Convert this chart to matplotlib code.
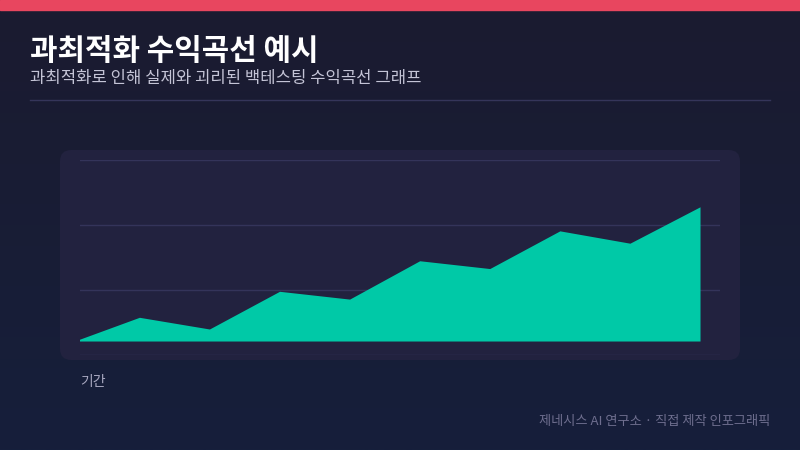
import matplotlib
matplotlib.use("Agg")
import matplotlib.pyplot as plt
import numpy as np
from matplotlib.patches import FancyBboxPatch, Rectangle
from matplotlib.lines import Line2D

plt.rcParams['font.family'] = ['Noto Sans CJK KR', 'DejaVu Sans']

# ---- data ----
periods = list(range(10))
equity = [18.5, 58, 40, 98, 86, 145, 133, 191, 172, 228]
baseline = 21.5
grid_levels = [0, 100, 200, 300]

title = "과최적화 수익곡선 예시"
subtitle = "과최적화로 인해 실제와 괴리된 백테스팅 수익곡선 그래프"
xlabel = "기간"
footer = "제네시스 AI 연구소 · 직접 제작 인포그래픽"

W, H = 800, 450
fig = plt.figure(figsize=(8, 4.5), dpi=100)

# background gradient
bg = fig.add_axes([0, 0, 1, 1], zorder=0)
top = np.array([0x1b, 0x1b, 0x30]) / 255
bot = np.array([0x16, 0x1f, 0x3b]) / 255
t = np.linspace(0, 1, 256)[:, None]
grad = top[None, :] * (1 - t) + bot[None, :] * t
bg.imshow(grad[:, None, :], aspect='auto', extent=[0, 1, 0, 1])
bg.set_xlim(0, 1); bg.set_ylim(0, 1)
bg.axis('off')

# top bar
bg.add_patch(Rectangle((0, 1 - 10 / H), 1, 10 / H, color='#e8465f', transform=bg.transAxes, zorder=2))

# card
card = FancyBboxPatch((60 / W, 1 - 360 / H), 680 / W, 210 / H,
                      boxstyle="round,pad=0,rounding_size=0.014",
                      mutation_aspect=W / H,
                      facecolor='#22223f', edgecolor='none', transform=bg.transAxes, zorder=1)
bg.add_patch(card)

# separator
bg.add_line(Line2D([30 / W, 770 / W], [1 - 100 / H, 1 - 100 / H], color='#35355a', lw=1, transform=bg.transAxes))

# texts
fig.text(30 / W, 1 - 51 / H, title, color='white', fontsize=21.5, fontweight='bold', va='center', ha='left')
fig.text(30 / W, 1 - 79 / H, subtitle, color='#c4c4d6', fontsize=12, va='center', ha='left')
fig.text(80 / W, 1 - 382 / H, xlabel, color='#a8a8c0', fontsize=10, va='center', ha='left')
fig.text(770 / W, 1 - 422 / H, footer, color='#6e6e8e', fontsize=9.5, va='center', ha='right')

# chart axes
ax = fig.add_axes([80 / W, 1 - 355 / H, 640 / W, 195 / H], zorder=3)
ax.set_facecolor('none')
ax.fill_between(periods, equity, baseline, color='#00c9a7', lw=0, zorder=2)
step = 70.08
ax.set_xlim((80 - 69.3) / step, (720 - 69.3) / step)
ax.set_ylim(0, 300)
ax.set_yticks(grid_levels)
ax.grid(axis='y', color='#34345a', lw=1)
ax.set_axisbelow(True)
ax.tick_params(left=False, bottom=False, labelleft=False, labelbottom=False)
ax.set_xticks([])
for s in ax.spines.values():
    s.set_visible(False)

fig.savefig('out.png', dpi=100)
